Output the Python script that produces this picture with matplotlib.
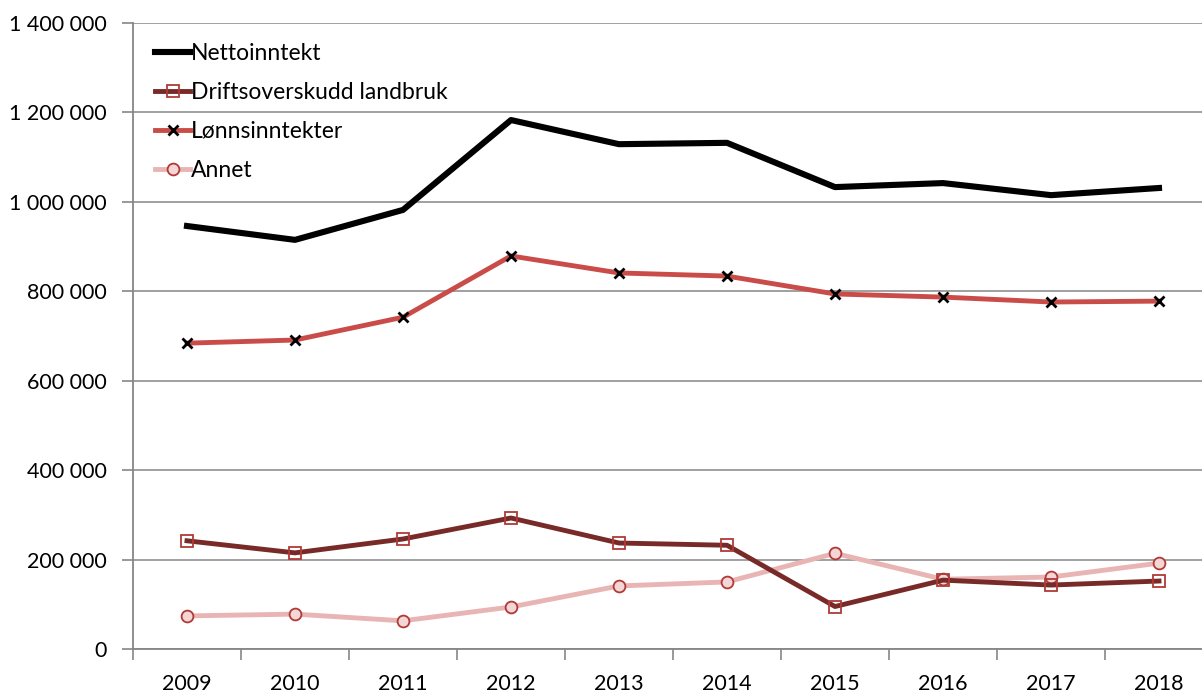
import matplotlib
matplotlib.use("Agg")
import matplotlib.pyplot as plt
from matplotlib.ticker import FuncFormatter, FixedLocator

plt.rcParams['font.family'] = ['Lato', 'DejaVu Sans']

years = ['2009', '2010', '2011', '2012', '2013', '2014', '2015', '2016', '2017', '2018']
netto = [946000, 915000, 982000, 1183000, 1129000, 1132000, 1033000, 1042000, 1015000, 1031000]
drift = [242000, 215000, 246000, 293000, 237000, 232000, 95000, 154000, 143000, 152000]
lonn = [684000, 691000, 742000, 879000, 841000, 834000, 794000, 787000, 776000, 778000]
annet = [74000, 78000, 63000, 94000, 141000, 150000, 214000, 156000, 161000, 192000]

W, H = 1202, 693
fig = plt.figure(figsize=(W / 100, H / 100), dpi=100)
left, right, top, bottom = 133, 1213, 23, 649
ax = fig.add_axes([left / W, 1 - bottom / H, (right - left) / W, (bottom - top) / H])

x = list(range(len(years)))
ax.plot(x, netto, color='black', lw=4.4, label='Nettoinntekt', zorder=5)
ax.plot(x, drift, color='#772A27', lw=3.5, marker='s', ms=8, mfc='none',
        mec='#B03A36', mew=1.3, label='Driftsoverskudd landbruk', zorder=4)
ax.plot(x, lonn, color='#C94C48', lw=3.5, marker='x', ms=7, mec='black',
        mew=2.0, label='Lønnsinntekter', zorder=4)
ax.plot(x, annet, color='#E8B5B4', lw=3.5, marker='o', ms=8.5, mfc='#F3D6D5',
        mec='#B03A36', mew=1.3, label='Annet', zorder=3)

ax.set_xlim(-0.5, len(years) - 0.5)
ax.set_ylim(0, 1400000)
ax.set_yticks(range(0, 1400001, 200000))
ax.yaxis.set_major_formatter(FuncFormatter(lambda v, p: f"{int(v):,}".replace(',', ' ')))
ax.set_xticks(x)
ax.set_xticklabels(years)
ax.xaxis.set_minor_locator(FixedLocator([i - 0.5 for i in range(len(years) + 1)]))
ax.tick_params(axis='x', which='major', length=0, pad=18, labelsize=15.5, colors='black')
ax.tick_params(axis='x', which='minor', length=8, width=1.2, color='#868686', direction='out')
ax.tick_params(axis='y', length=8, width=1.2, color='#868686', labelsize=15.5, pad=11)

ax.grid(axis='y', color='#868686', lw=1.1, zorder=0)
ax.set_axisbelow(True)
for s in ['top', 'right']:
    ax.spines[s].set_visible(False)
for s in ['left', 'bottom']:
    ax.spines[s].set_color('#868686')
    ax.spines[s].set_linewidth(1.3)

leg = ax.legend(loc='upper left', bbox_to_anchor=(0.008, 0.99), frameon=False,
                fontsize=16.5, handlelength=1.5, handletextpad=0.05,
                labelspacing=0.78, borderaxespad=0.2)

fig.savefig('out.png', dpi=100)
